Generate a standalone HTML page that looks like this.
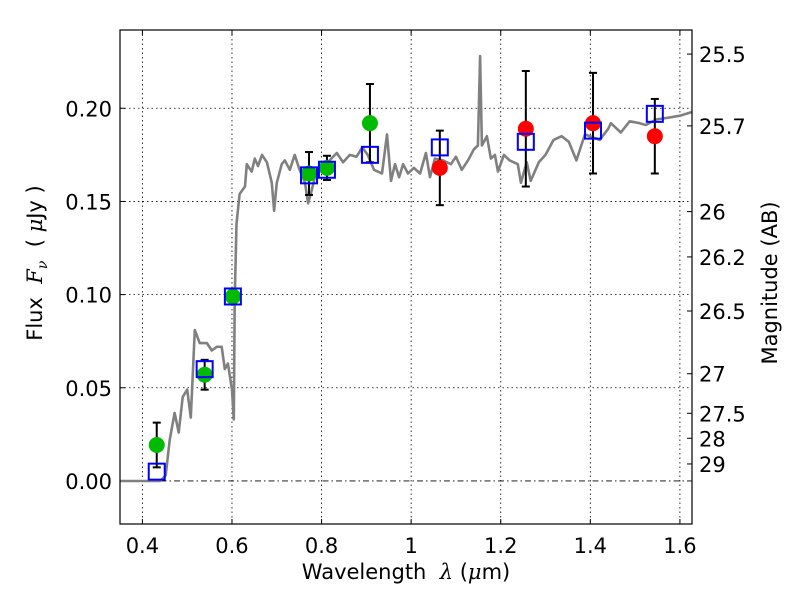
<!DOCTYPE html>
<html><head><meta charset="utf-8"><style>
body{margin:0;background:#fff}
svg{display:block;font-family:"DejaVu Sans","Liberation Sans",sans-serif}
</style></head><body>
<svg id="chart" width="800" height="600" viewBox="0 0 800 600"></svg>
<script>
const xTicks=[0.4,0.6,0.8,1.0,1.2,1.4,1.6];
const xTickLabels=["0.4","0.6","0.8","1","1.2","1.4","1.6"];
const yTicks=[0,0.05,0.10,0.15,0.20];
const yTickLabels=["0.00","0.05","0.10","0.15","0.20"];
const magTicks=[25.5,25.7,26,26.2,26.5,27,27.5,28,29];
const magTickLabels=["25.5","25.7","26","26.2","26.5","27","27.5","28","29"];
const specWave=[0.35,0.44,0.452,0.461,0.472,0.481,0.490,0.50,0.508,0.517,0.528,0.544,0.555,0.566,0.577,0.584,0.591,0.600,0.604,0.606,0.610,0.617,0.629,0.633,0.644,0.651,0.658,0.667,0.678,0.689,0.694,0.700,0.711,0.718,0.729,0.740,0.751,0.763,0.770,0.778,0.789,0.803,0.818,0.834,0.848,0.863,0.878,0.891,0.903,0.917,0.935,0.946,0.955,0.964,0.973,0.982,0.993,1.006,1.02,1.033,1.042,1.053,1.071,1.089,1.10,1.113,1.127,1.140,1.149,1.154,1.158,1.169,1.178,1.187,1.194,1.207,1.22,1.238,1.245,1.258,1.267,1.285,1.30,1.318,1.336,1.352,1.369,1.388,1.421,1.44,1.446,1.468,1.488,1.51,1.524,1.548,1.575,1.60,1.627];
const specFlux=[0,0,0.003,0.022,0.0365,0.026,0.045,0.049,0.034,0.081,0.074,0.074,0.070,0.072,0.072,0.060,0.063,0.049,0.033,0.097,0.138,0.154,0.158,0.170,0.166,0.173,0.169,0.175,0.171,0.160,0.145,0.160,0.170,0.172,0.167,0.175,0.167,0.160,0.149,0.156,0.167,0.168,0.172,0.176,0.171,0.175,0.174,0.179,0.175,0.167,0.165,0.186,0.161,0.170,0.163,0.170,0.165,0.168,0.165,0.176,0.163,0.173,0.172,0.170,0.174,0.167,0.172,0.178,0.180,0.228,0.180,0.185,0.173,0.175,0.166,0.175,0.172,0.170,0.160,0.171,0.161,0.171,0.175,0.183,0.185,0.182,0.172,0.186,0.183,0.189,0.192,0.187,0.193,0.192,0.191,0.194,0.195,0.196,0.198];
const greenWave=[0.432,0.539,0.602,0.772,0.812,0.908];
const greenFlux=[0.0193,0.057,0.099,0.165,0.168,0.192];
const greenErr=[0.012,0.008,0.004,0.0115,0.0065,0.021];
const redWave=[1.064,1.256,1.406,1.544];
const redFlux=[0.168,0.189,0.192,0.185];
const redErr=[0.02,0.031,0.027,0.02];
const boxWave=[0.432,0.539,0.602,0.772,0.812,0.908,1.064,1.256,1.406,1.544];
const boxFlux=[0.005,0.060,0.099,0.164,0.167,0.175,0.179,0.182,0.188,0.197];

const L=120,R=692,T=30,B=524;
const X0=0.35,X1=1.627,Y0=-0.0231,Y1=0.242;
const sx=v=>L+(v-X0)/(X1-X0)*(R-L);
const sy=v=>B-(v-Y0)/(Y1-Y0)*(B-T);
const magToFlux=m=>Math.pow(10,(23.9-m)/2.5);
const svg=document.getElementById('chart');
const NS='http://www.w3.org/2000/svg';
function mk(tag,attrs,parent){const e=document.createElementNS(NS,tag);for(const k in attrs)e.setAttribute(k,attrs[k]);(parent||svg).appendChild(e);return e;}

xTicks.forEach((t,i)=>{
 const g=mk('line',{x1:sx(t),x2:sx(t),y1:T,y2:B,stroke:'#000','stroke-width':0.8,'stroke-dasharray':'1.5,3'});
 
 
 mk('line',{x1:sx(t),x2:sx(t),y1:B,y2:B-5,stroke:'#000'});
 mk('line',{x1:sx(t),x2:sx(t),y1:T,y2:T+5,stroke:'#000'});
 const tx=mk('text',{x:sx(t),y:B+29,'text-anchor':'middle','font-size':21});
 tx.textContent=xTickLabels[i];
 
 
});
yTicks.forEach((t,i)=>{
 if(t!==0){
 const g=mk('line',{x1:L,x2:R,y1:sy(t),y2:sy(t),stroke:'#000','stroke-width':0.8,'stroke-dasharray':'1.5,3'});
 
 }
 mk('line',{x1:L,x2:L+5,y1:sy(t),y2:sy(t),stroke:'#000'});
 const tx=mk('text',{x:112,y:sy(t)+8,'text-anchor':'end','font-size':21});
 tx.textContent=yTickLabels[i];
 
 
});
magTicks.forEach((m,i)=>{
 const y=sy(magToFlux(m));
 mk('line',{x1:R,x2:R-5,y1:y,y2:y,stroke:'#000'});
 const tx=mk('text',{x:699,y:y+8,'font-size':21});
 tx.textContent=magTickLabels[i];
 
 
});
const z=mk('line',{x1:L,x2:R,y1:sy(0),y2:sy(0),stroke:'#000','stroke-width':0.8,'stroke-dasharray':'6,3,1.5,3'});


let d='';
specWave.forEach((w,i)=>{d+=(i?'L':'M')+sx(w).toFixed(1)+','+sy(specFlux[i]).toFixed(1);});
const sp=mk('path',{d:d,fill:'none',stroke:'#808080','stroke-width':2.6,'stroke-linejoin':'round'});


function errbar(w,f,e,name){
 const x=sx(w),y1=sy(f+e),y2=sy(f-e);
 const g=mk('g',{stroke:'#000','stroke-width':2});
 
 
 mk('line',{x1:x,x2:x,y1:y1,y2:y2},g);
 mk('line',{x1:x-4,x2:x+4,y1:y1,y2:y1},g);
 mk('line',{x1:x-4,x2:x+4,y1:y2,y2:y2},g);
}
greenWave.forEach((w,i)=>errbar(w,greenFlux[i],greenErr[i],'green-error-bar'));
redWave.forEach((w,i)=>errbar(w,redFlux[i],redErr[i],'red-error-bar'));
greenWave.forEach((w,i)=>{
 const c=mk('circle',{cx:sx(w),cy:sy(greenFlux[i]),r:8,fill:'#00bb00'});
 
 
});
redWave.forEach((w,i)=>{
 const c=mk('circle',{cx:sx(w),cy:sy(redFlux[i]),r:8,fill:'#ff0000'});
 
 
});
boxWave.forEach((w,i)=>{
 const r=mk('rect',{x:sx(w)-8,y:sy(boxFlux[i])-8,width:16,height:16,fill:'none',stroke:'#0000ff','stroke-width':2});
 
 
});
const fr=mk('rect',{x:L,y:T,width:R-L,height:B-T,fill:'none',stroke:'#000','stroke-width':1.2});


</script>
<div style="position:absolute;left:0;top:0;width:800px;height:600px;pointer-events:none;font-family:'DejaVu Sans','Liberation Sans',sans-serif">
<div style="position:absolute;left:0;width:812px;top:560px;text-align:center;font-size:21px">Wavelength&nbsp; <i style="font-family:'DejaVu Serif',serif">λ</i> (<i style="font-family:'DejaVu Serif',serif">μ</i>m)</div>
<div style="position:absolute;left:37px;top:263px;width:0;height:0"><div style="position:absolute;transform:translate(-50%,-50%) rotate(-90deg);white-space:nowrap;font-size:21px">Flux&nbsp; <i style="font-family:'DejaVu Serif',serif">F<sub style="font-size:14px">ν</sub></i>&nbsp; ( <i style="font-family:'DejaVu Serif',serif">μ</i>Jy )</div></div>
<div style="position:absolute;left:770px;top:283px;width:0;height:0"><div style="position:absolute;transform:translate(-50%,-50%) rotate(-90deg);white-space:nowrap;font-size:21px">Magnitude (AB)</div></div>
</div>
</body></html>
